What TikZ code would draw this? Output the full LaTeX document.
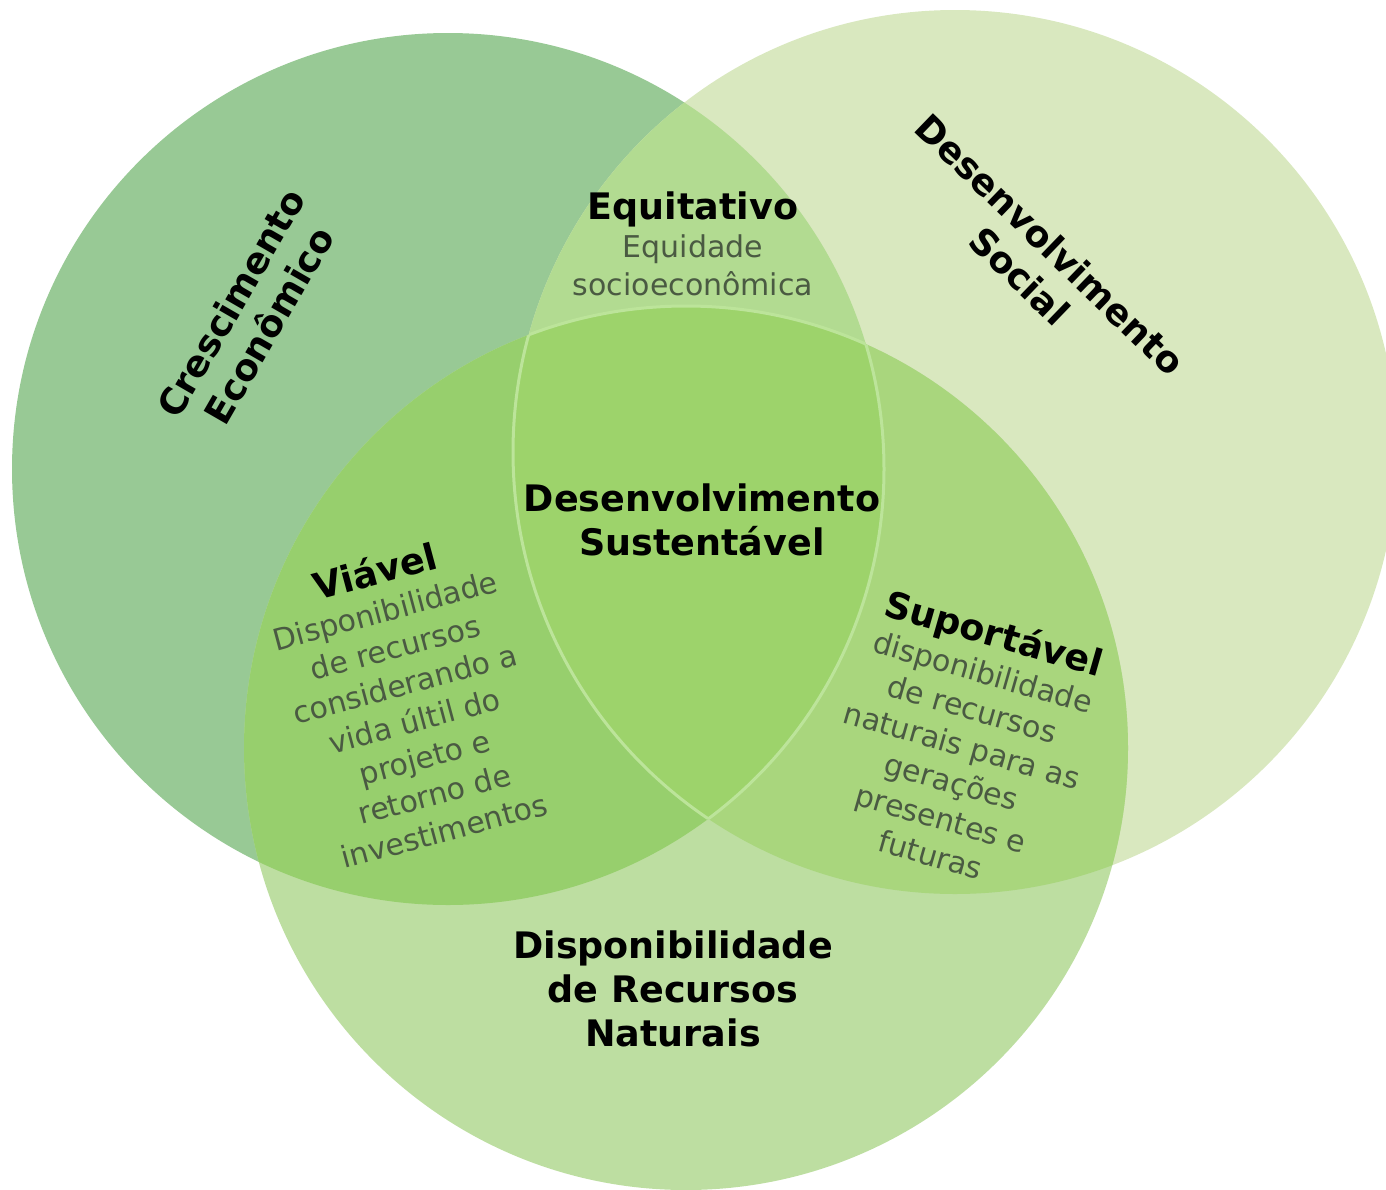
\documentclass[tikz,border=0pt]{standalone}
\usepackage{fontspec}
\setmainfont{DejaVu Sans}
\usepackage{xcolor}
\usetikzlibrary{positioning}
\definecolor{econ}{HTML}{98C995}
\definecolor{social}{HTML}{D9E8BF}
\definecolor{natural}{HTML}{BDDEA1}
\definecolor{equit}{HTML}{B2DB91}
\definecolor{viavel}{HTML}{97CF6D}
\definecolor{suport}{HTML}{A9D67D}
\definecolor{sust}{HTML}{9DD36B}
\definecolor{rim}{HTML}{BCE49A}
\definecolor{txtdesc}{HTML}{4A5A42}

\begin{document}
\begin{tikzpicture}[
    x=1pt, y=-1pt,
    title/.style={font=\bfseries\fontsize{36.5}{44}\selectfont, align=center, text=black},
    note/.style={font=\fontsize{30}{38}\selectfont, align=center, text=txtdesc},
]
\useasboundingbox (0,0) rectangle (1386,1189);
\clip (0,0) rectangle (1386,1189);

% circle centres
\coordinate (ce) at (448,469);
\coordinate (cs) at (955,452);
\coordinate (cn) at (686,748);

% single sets
\fill[econ] (ce) circle (436pt);
\fill[social] (cs) circle (442pt);
\fill[natural] (cn) circle (442pt);

% pairwise overlaps
\begin{scope}
  \clip (ce) circle (436pt);
  \fill[equit] (cs) circle (442pt);
  \fill[viavel] (cn) circle (442pt);
\end{scope}
\begin{scope}
  \clip (cs) circle (442pt);
  \fill[suport] (cn) circle (442pt);
\end{scope}

% centre
\begin{scope}
  \clip (ce) circle (436pt);
  \clip (cs) circle (442pt);
  \fill[sust] (cn) circle (442pt);
  \draw[rim, line width=3pt] (cn) circle (442pt);
\end{scope}
\begin{scope}
  \clip (ce) circle (436pt);
  \clip (cn) circle (442pt);
  \draw[rim, line width=3pt] (cs) circle (442pt);
\end{scope}
\begin{scope}
  \clip (cs) circle (442pt);
  \clip (cn) circle (442pt);
  \draw[rim, line width=3pt] (ce) circle (436pt);
\end{scope}

% labels
\node[title, rotate=60] (cresc) at (250,314) {Crescimento\\Econômico};
\node[title, rotate=-44] (dsoc) at (1035,260) {Desenvolvimento\\Social};
\node[title] (recnat) at (673,989) {Disponibilidade\\de Recursos\\Naturais};
\node[title] (dsust) at (702,520) {Desenvolvimento\\Sustentável};

\node[note] (equi) at (693,244)
  {{\bfseries\fontsize{36.5}{40}\selectfont\color{black}Equitativo}\\Equidade\\socioeconômica};
\node[note, rotate=15] (viav) at (409,699)
  {{\bfseries\fontsize{36.5}{40}\selectfont\color{black}Viável}\\Disponibilidade\\de recursos\\considerando a\\vida últil do\\projeto e\\retorno de\\investimentos};
\node[note, rotate=-16] (suport) at (963,742)
  {{\bfseries\fontsize{36.5}{40}\selectfont\color{black}Suportável}\\disponibilidade\\de recursos\\naturais para as\\gerações\\presentes e\\futuras};
\end{tikzpicture}
\end{document}
